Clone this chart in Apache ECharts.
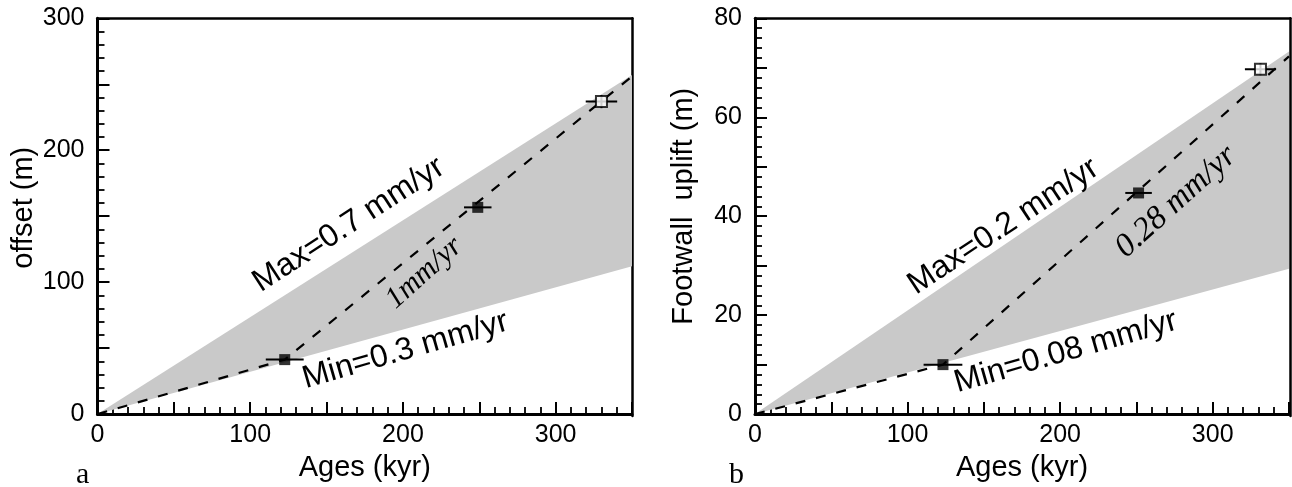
<!DOCTYPE html>
<html><head><meta charset="utf-8">
<script src="https://cdn.jsdelivr.net/npm/echarts@6/dist/echarts.min.js"></script>
<style>html,body{margin:0;padding:0;background:#fff;} #c{width:1292px;height:487px;}</style>
</head><body><div id="c"></div>
<script>
// ---- Panel a data ----
const agesA = [122.6, 249, 330];
const offsetA = [41.3, 156.7, 236.9];
const ageErrA = [12.4, 9, 10.3];
const offErrA = [0, 0, 5];
const kindA = ['filled', 'filled', 'open'];
const fitAgesA = [0, 122.6, 350];
const fitOffsetA = [0, 41.3, 256];
const wedgeAgesA = [0, 350];
const wedgeMaxA = [0, 257];
const wedgeMinA = [0, 112];
const yTicksA = [0, 100, 200, 300];

// ---- Panel b data ----
const agesB = [123.2, 251.4, 331.3];
const upliftB = [10.0, 44.7, 69.7];
const ageErrB = [12.7, 8.7, 10.2];
const upErrB = [0, 0, 1.2];
const kindB = ['filled', 'filled', 'open'];
const fitAgesB = [0, 123.2, 350];
const fitUpliftB = [0, 10.0, 72.3];
const wedgeAgesB = [0, 350];
const wedgeMaxB = [0, 73.3];
const wedgeMinB = [0, 29.4];
const yTicksB = [0, 20, 40, 60, 80];
const xTicks = [0, 100, 200, 300];

// ---- Annotations ----
const annoTextA = ['Max=0.7 mm/yr', 'Min=0.3 mm/yr', '1mm/yr'];
const annoXA = [164.5, 201.6, 214];
const annoYA = [143.5, 48.3, 107];
const annoAngleA = [33, 16, 42];
const annoSerifA = [false, false, true];
const annoTextB = ['Max=0.2 mm/yr', 'Min=0.08 mm/yr', '0.28 mm/yr'];
const annoXB = [162.8, 203.7, 276];
const annoYB = [37.9, 12.55, 42.9];
const annoAngleB = [33.5, 16, 42];
const annoSerifB = [false, false, true];

const SANS = '"Liberation Sans", Arial, sans-serif';
const SERIF = '"Liberation Serif", "Times New Roman", serif';

const chart = echarts.init(document.getElementById('c'), null, {renderer: 'canvas'});

const MINOR = {show: true, splitNumber: 5, length: 7, lineStyle: {color: '#000', width: 1.8}};

function mainX(gi) {
  return {
    type: 'value', gridIndex: gi, min: 0, max: 350, interval: 50,
    name: 'Ages (kyr)', nameLocation: 'middle', nameGap: 36,
    nameTextStyle: {fontFamily: SANS, fontSize: 29, color: '#000'},
    axisLine: {show: true, onZero: false, lineStyle: {color: '#000', width: 3}},
    axisTick: {show: true, inside: true, length: 12, lineStyle: {color: '#000', width: 2}},
    minorTick: MINOR,
    axisLabel: {show: true, margin: 9, fontFamily: SANS, fontSize: 25, color: '#000',
      formatter: v => xTicks.indexOf(v) >= 0 ? String(v) : ''},
    splitLine: {show: false}, minorSplitLine: {show: false}
  };
}
function mainY(gi, max, interval, ticks, name, pad) {
  return {
    type: 'value', gridIndex: gi, min: 0, max: max, interval: interval,
    name: name, nameLocation: 'middle', nameGap: 57, nameRotate: 90,
    nameTextStyle: {fontFamily: SANS, fontSize: 29, color: '#000', padding: pad},
    axisLine: {show: true, onZero: false, lineStyle: {color: '#000', width: 3}},
    axisTick: {show: true, inside: true, length: 12, lineStyle: {color: '#000', width: 2}},
    minorTick: MINOR,
    axisLabel: {show: true, margin: 13, fontFamily: SANS, fontSize: 25, color: '#000',
      formatter: v => ticks.indexOf(v) >= 0 ? String(v) : ''},
    splitLine: {show: false}, minorSplitLine: {show: false}
  };
}
function frameX(gi) {
  return {type: 'value', gridIndex: gi, min: 0, max: 350, position: 'top',
    axisLine: {show: true, onZero: false, lineStyle: {color: '#000', width: 2.5}},
    axisTick: {show: false}, axisLabel: {show: false}, splitLine: {show: false}};
}
function frameY(gi, max) {
  return {type: 'value', gridIndex: gi, min: 0, max: max, position: 'right',
    axisLine: {show: true, onZero: false, lineStyle: {color: '#000', width: 2.5}},
    axisTick: {show: false}, axisLabel: {show: false}, splitLine: {show: false}};
}

function wedgeSeries(ai, xs, up, lo) {
  return {
    type: 'custom', xAxisIndex: ai, yAxisIndex: ai, z: 1, silent: true, clip: false,
    data: [[xs[1], up[1], lo[1]]],
    renderItem(params, api) {
      const pts = [
        api.coord([xs[0], up[0]]), api.coord([xs[1], up[1]]),
        api.coord([xs[1], lo[1]]), api.coord([xs[0], lo[0]])
      ];
      return {type: 'polygon', shape: {points: pts}, style: {fill: '#c9c9c9'}};
    }
  };
}
function fitSeries(ai, xs, ys) {
  return {
    type: 'line', xAxisIndex: ai, yAxisIndex: ai, z: 2, silent: true,
    data: xs.map((x, i) => [x, ys[i]]), symbol: 'none',
    lineStyle: {color: '#000', width: 2.2, type: [10, 11]}
  };
}
function errSeries(ai, xs, ys, ex, ey) {
  return {
    type: 'custom', xAxisIndex: ai, yAxisIndex: ai, z: 3, silent: true,
    data: xs.map((x, i) => [x, ys[i], ex[i], ey[i]]),
    renderItem(params, api) {
      const x = api.value(0), y = api.value(1), dx = api.value(2), dy = api.value(3);
      const a = api.coord([x - dx, y]), b = api.coord([x + dx, y]);
      const ch = [{type: 'line', shape: {x1: a[0], y1: a[1], x2: b[0], y2: b[1]}, style: {stroke: '#000', lineWidth: 2}}];
      if (dy > 0) {
        const c = api.coord([x, y - dy]), d = api.coord([x, y + dy]);
        ch.push({type: 'line', shape: {x1: c[0], y1: c[1], x2: d[0], y2: d[1]}, style: {stroke: '#000', lineWidth: 2}});
      }
      return {type: 'group', children: ch};
    }
  };
}
function pointSeries(ai, xs, ys, kinds, kind) {
  const data = [];
  xs.forEach((x, i) => { if (kinds[i] === kind) data.push([x, ys[i]]); });
  return {
    type: 'scatter', xAxisIndex: ai, yAxisIndex: ai, z: 4, silent: true,
    symbol: 'rect', symbolSize: 11, data: data,
    itemStyle: kind === 'filled' ? {color: '#000'} : {color: '#fff', borderColor: '#000', borderWidth: 2}
  };
}

chart.setOption({
  animation: false,
  backgroundColor: '#fff',
  grid: [
    {left: 97.5, top: 18.3, width: 534.5, height: 397.7},
    {left: 755, top: 18.3, width: 535, height: 397.7},
    {left: 97.5, top: 18.3, width: 534.5, height: 397.7},
    {left: 755, top: 18.3, width: 535, height: 397.7}
  ],
  xAxis: [mainX(0), mainX(1), frameX(2), frameX(3)],
  yAxis: [
    mainY(0, 300, 50, yTicksA, 'offset (m)', [0, 0, 0, 17]),
    mainY(1, 80, 10, yTicksB, 'Footwall  uplift (m)', [0, 0, 0, 20]),
    frameY(2, 300), frameY(3, 80)
  ],
  series: [
    wedgeSeries(0, wedgeAgesA, wedgeMaxA, wedgeMinA),
    wedgeSeries(1, wedgeAgesB, wedgeMaxB, wedgeMinB),
    fitSeries(0, fitAgesA, fitOffsetA),
    fitSeries(1, fitAgesB, fitUpliftB),
    errSeries(0, agesA, offsetA, ageErrA, offErrA),
    errSeries(1, agesB, upliftB, ageErrB, upErrB),
    pointSeries(0, agesA, offsetA, kindA, 'filled'),
    pointSeries(0, agesA, offsetA, kindA, 'open'),
    pointSeries(1, agesB, upliftB, kindB, 'filled'),
    pointSeries(1, agesB, upliftB, kindB, 'open')
  ]
});

function annos(gi, texts, xs, ys, angles, serif) {
  return texts.map((t, i) => {
    const p = chart.convertToPixel({gridIndex: gi}, [xs[i], ys[i]]);
    return {
      type: 'text', x: p[0], y: p[1], rotation: angles[i] * Math.PI / 180, z: 10, silent: true,
      style: {
        text: t, fill: '#000', align: 'center', verticalAlign: 'middle',
        font: serif[i] ? ('italic ' + (gi === 0 ? 30 : 33) + 'px ' + SERIF) : ('32px ' + SANS)
      }
    };
  });
}
chart.setOption({
  graphic: [].concat(
    annos(0, annoTextA, annoXA, annoYA, annoAngleA, annoSerifA),
    annos(1, annoTextB, annoXB, annoYB, annoAngleB, annoSerifB),
    [
      {type: 'text', left: 76, top: 460, silent: true, style: {text: 'a', fill: '#000', font: '30px ' + SERIF}},
      {type: 'text', left: 729, top: 460, silent: true, style: {text: 'b', fill: '#000', font: '30px ' + SERIF}}
    ]
  )
});
</script></body></html>
